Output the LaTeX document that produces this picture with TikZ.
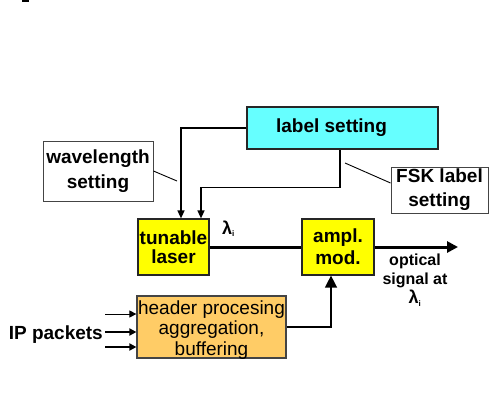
\documentclass[tikz,border=0pt]{standalone}
\usepackage{fontspec}
\setmainfont{Liberation Sans}
\usetikzlibrary{arrows.meta}
\definecolor{cyanbox}{HTML}{66FFFF}
\definecolor{yellowbox}{HTML}{FFFF00}
\definecolor{orangebox}{HTML}{FFCC66}
\definecolor{edgegray}{HTML}{444444}
\newcommand{\lamsub}{λ\textsubscript{\fontsize{8}{8}\selectfont i}}
\begin{document}
\begin{tikzpicture}[x=1pt,y=-1pt,
  box/.style={draw, rectangle, inner sep=0pt, align=center},
  boldtxt/.style={font=\fontsize{19}{24}\selectfont\bfseries},
  callout/.style={draw=edgegray, fill=white, line width=0.9pt},
  conn/.style={line width=1.4pt, -{Triangle[length=8pt,width=7pt]}},
  thinline/.style={line width=0.9pt},
  optical/.style={line width=3pt}
]
\useasboundingbox (0,0) rectangle (489,399);

% fragment at the upper margin
\fill (22,0) rectangle (28.5,1.6);

% blocks
\node[box, boldtxt, fill=cyanbox, draw=black!85, line width=1.5pt,
      minimum width=191pt, minimum height=42pt] (label) at (342.5,128)
      {\raisebox{-3pt}{label setting}\hspace*{22pt}};
\node[box, boldtxt, callout, minimum width=110pt, minimum height=60pt,
      font=\fontsize{19}{25}\selectfont\bfseries] (wave) at (98,171)
      {\raisebox{-3pt}{wavelength}\\\raisebox{-3pt}{setting}};
\node[box, boldtxt, callout, minimum width=97pt, minimum height=46pt] (fsk) at (439.5,190)
      {FSK label\\setting};
\node[box, fill=yellowbox, draw=black!85, line width=1.2pt,
      font=\fontsize{19}{19}\selectfont\bfseries,
      minimum width=71pt, minimum height=56pt] (laser) at (173.5,247)
      {tunable\\laser};
\node[box, fill=yellowbox, draw=black!85, line width=1.2pt,
      font=\fontsize{19}{22}\selectfont\bfseries,
      minimum width=72pt, minimum height=56pt] (ampl) at (338,247)
      {\raisebox{-2pt}{ampl.}\\\raisebox{-2pt}{mod.}};
\node[box, fill=orangebox, draw=edgegray, line width=1.2pt,
      minimum width=149pt, minimum height=62pt] (header) at (211.5,327) {};
\node[inner sep=0pt, align=center, font=\fontsize{19}{20.5}\selectfont]
      (headertxt) at ([yshift=-3pt]header.center)
      {header procesing\\aggregation,\\buffering};

% texts without frame
\node[anchor=base east, inner sep=0pt, font=\fontsize{19}{19}\selectfont\bfseries]
      (ip) at (103,339) {IP packets};
\node[anchor=base west, inner sep=0pt, font=\fontsize{18}{18}\selectfont\bfseries]
      (lam) at (222,234) {\lamsub};
\node[inner sep=0pt, align=center, font=\fontsize{16}{19}\selectfont\bfseries]
      (sig) at (415,280)
      {optical\\signal at\\{\fontsize{18}{18}\selectfont\lamsub}};

% callout leaders
\coordinate (wtip) at (177,181);
\coordinate (ftip) at (345,163);
\draw[thinline] (wave.east) -- (wtip);
\draw[thinline] (ftip) -- ([yshift=7pt]fsk.west);

% control connections into the laser
\draw[conn] (label.west) -| ([xshift=7.5pt]laser.north);
\draw[conn] ([xshift=-2.5pt]label.south) -- ++(0,38) -| ([xshift=27.5pt]laser.north);

% optical path
\coordinate (out) at (458,247);
\draw[optical] (laser.east) -- (ampl.west);
\draw[optical, -{Triangle[length=11pt,width=11pt]}] (ampl.east) -- (out);

% modulation drive
\draw[line width=1.4pt, -{Triangle[length=12pt,width=12pt]}]
      (header.east) -| ([xshift=-7pt]ampl.south);

% incoming packets
\coordinate (p1) at (105,314);
\coordinate (p2) at (105,332);
\coordinate (p3) at (105,347);
\draw[line width=0.9pt, -{Triangle[length=7pt,width=7pt]}] (p1) -- ([yshift=13pt]header.west);
\draw[line width=1.8pt, -{Triangle[length=7pt,width=7pt]}] (p2) -- ([yshift=-5pt]header.west);
\draw[line width=1.8pt, -{Triangle[length=7pt,width=7pt]}] (p3) -- ([yshift=-20pt]header.west);
\end{tikzpicture}
\end{document}
